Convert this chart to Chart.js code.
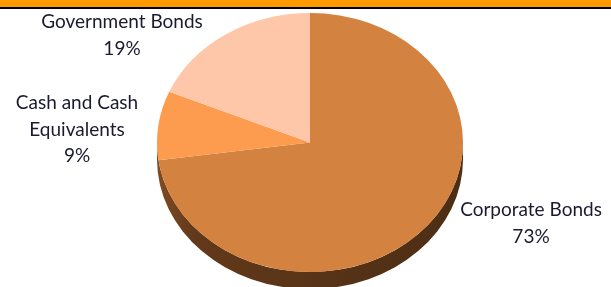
<!DOCTYPE html>
<html lang="en">
<head>
    <meta charset="UTF-8">
    <title>Bond Allocation</title>
    <script src="https://cdn.jsdelivr.net/npm/chart.js"></script>
    <style>
        html, body { margin: 0; padding: 0; background: #ffffff; }
        .wrap { position: relative; width: 611px; height: 287px; overflow: hidden; }
        .topbar {
            position: absolute; left: 0; top: 0; width: 611px; height: 7px;
            background: #ff9900; border-bottom: 2px solid #000000;
        }
        canvas { position: absolute; left: 0; top: 0; }
    </style>
</head>
<body>
    <div class="wrap">
        <canvas id="pie" width="611" height="287"></canvas>
        <div class="topbar"></div>
    </div>

    <script>
        // chart data
        const categories = [["Corporate Bonds"], ["Cash and Cash", "Equivalents"], ["Government Bonds"]];
        const shares = [72.8, 8.6, 18.6];
        const sliceColors = ["#d4823f", "#fd9b4f", "#ffc7a9"];

        // where each label block sits (centre x, first baseline y)
        const labelSpots = [
            { x: 531, y: 216 },
            { x: 77, y: 109 },
            { x: 122, y: 28 }
        ];

        const squash = 153 / 129.5; // widen the circle into the flat ellipse look
        const depth = 17;

        const tiltPlugin = {
            id: "tilt",
            beforeDatasetsDraw(chart) {
                const arc = chart.getDatasetMeta(0).data[0];
                const ctx = chart.ctx;
                const r = arc.outerRadius;
                // side wall of the pie
                const grad = ctx.createLinearGradient(arc.x - r * squash, 0, arc.x + r * squash, 0);
                grad.addColorStop(0, "#94592a");
                grad.addColorStop(0.18, "#62391a");
                grad.addColorStop(1, "#4a2c14");
                ctx.save();
                ctx.translate(arc.x, arc.y);
                ctx.scale(squash, 1);
                ctx.translate(-arc.x, -arc.y);
                ctx.beginPath();
                ctx.arc(arc.x, arc.y + depth, r, 0, Math.PI);
                ctx.lineTo(arc.x - r, arc.y);
                ctx.arc(arc.x, arc.y, r, Math.PI, 0, true);
                ctx.closePath();
                ctx.fillStyle = grad;
                ctx.fill();
                // keep the squash on for the slices themselves
            },
            afterDatasetsDraw(chart) {
                chart.ctx.restore();
            },
            afterDraw(chart) {
                const ctx = chart.ctx;
                const total = shares.reduce((a, b) => a + b, 0);
                ctx.save();
                ctx.font = "19px Lato";
                ctx.fillStyle = "#1a1a30";
                ctx.textAlign = "center";
                ctx.textBaseline = "alphabetic";
                categories.forEach((lines, i) => {
                    const spot = labelSpots[i];
                    const rows = lines.concat([Math.round(shares[i] / total * 100) + "%"]);
                    rows.forEach((t, k) => ctx.fillText(t, spot.x, spot.y + k * 26.5));
                });
                ctx.restore();
            }
        };

        new Chart(document.getElementById("pie").getContext("2d"), {
            type: "pie",
            data: {
                labels: categories,
                datasets: [{
                    data: shares,
                    backgroundColor: sliceColors,
                    borderWidth: 0
                }]
            },
            options: {
                responsive: false,
                animation: false,
                layout: { padding: { left: 180, right: 171, top: 13, bottom: 15 } },
                plugins: {
                    legend: { display: false },
                    tooltip: { enabled: false }
                }
            },
            plugins: [tiltPlugin]
        });
    </script>
</body>
</html>
